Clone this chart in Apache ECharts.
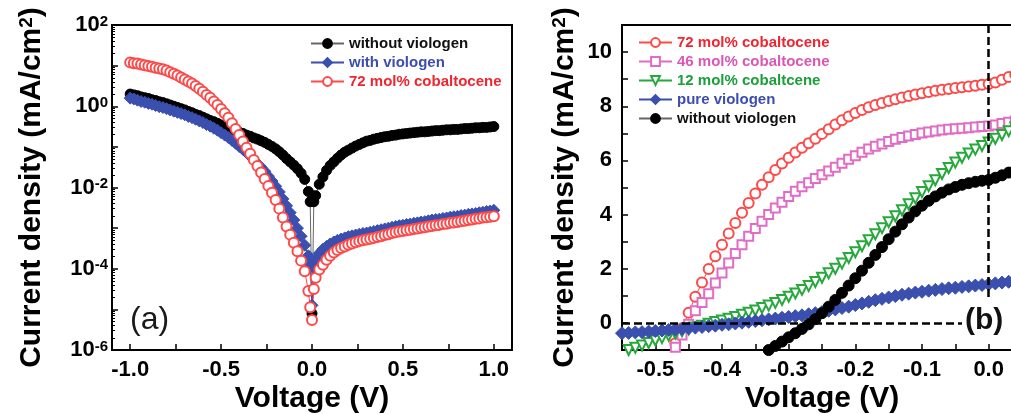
<!DOCTYPE html>
<html>
<head>
<meta charset="utf-8">
<script src="https://cdn.jsdelivr.net/npm/echarts@6.0.0/dist/echarts.min.js"></script>
<style>
  html, body { margin: 0; padding: 0; background: #fff; overflow: hidden; width: 1011px; height: 414px; }
  #chart { width: 1030px; height: 414px; }
</style>
</head>
<body>
<div id="chart"></div>
<script>
// ---- panel (a): dark J-V, log scale (values are log10 of mA/cm2) ----
const voltageA = [
  -1.00, -0.98, -0.96, -0.94, -0.92, -0.90, -0.88, -0.86, -0.84, -0.82,
  -0.80, -0.78, -0.76, -0.74, -0.72, -0.70, -0.68, -0.66, -0.64, -0.62,
  -0.60, -0.58, -0.56, -0.54, -0.52, -0.50, -0.48, -0.46, -0.44, -0.42,
  -0.40, -0.38, -0.36, -0.34, -0.32, -0.30, -0.28, -0.26, -0.24, -0.22,
  -0.20, -0.18, -0.16, -0.14, -0.12, -0.10, -0.08, -0.06, -0.04, -0.02,
  -0.01, 0.00, 0.01,
  0.02, 0.04, 0.06, 0.08, 0.10, 0.12, 0.14, 0.16, 0.18, 0.20,
  0.22, 0.24, 0.26, 0.28, 0.30, 0.32, 0.34, 0.36, 0.38, 0.40,
  0.42, 0.44, 0.46, 0.48, 0.50, 0.52, 0.54, 0.56, 0.58, 0.60,
  0.62, 0.64, 0.66, 0.68, 0.70, 0.72, 0.74, 0.76, 0.78, 0.80,
  0.82, 0.84, 0.86, 0.88, 0.90, 0.92, 0.94, 0.96, 0.98, 1.00
];
const logWithoutA = [
  0.30, 0.28, 0.26, 0.23, 0.21, 0.19, 0.16, 0.14, 0.11, 0.09,
  0.06, 0.03, 0.00, -0.03, -0.06, -0.09, -0.13, -0.16, -0.20, -0.23,
  -0.27, -0.31, -0.35, -0.38, -0.42, -0.46, -0.49, -0.53, -0.57, -0.60,
  -0.64, -0.67, -0.71, -0.74, -0.78, -0.81, -0.85, -0.89, -0.94, -0.99,
  -1.05, -1.12, -1.20, -1.29, -1.37, -1.45, -1.54, -1.65, -1.80, -2.10,
  -2.35, -5.10, -2.35,
  -2.20, -1.92, -1.74, -1.58, -1.46, -1.37, -1.28, -1.20, -1.13, -1.08,
  -1.03, -0.98, -0.94, -0.90, -0.86, -0.84, -0.81, -0.79, -0.77, -0.75,
  -0.74, -0.72, -0.71, -0.69, -0.68, -0.67, -0.66, -0.65, -0.64, -0.63,
  -0.63, -0.62, -0.61, -0.60, -0.60, -0.59, -0.58, -0.58, -0.57, -0.57,
  -0.56, -0.55, -0.55, -0.54, -0.53, -0.53, -0.52, -0.52, -0.51, -0.50
];
const logWithA = [
  0.20, 0.18, 0.15, 0.12, 0.10, 0.07, 0.05, 0.02, -0.01, -0.03,
  -0.06, -0.09, -0.12, -0.15, -0.18, -0.21, -0.25, -0.28, -0.32, -0.36,
  -0.40, -0.45, -0.49, -0.54, -0.59, -0.65, -0.71, -0.77, -0.84, -0.91,
  -0.99, -1.06, -1.14, -1.23, -1.32, -1.41, -1.50, -1.60, -1.72, -1.84,
  -1.97, -2.11, -2.28, -2.45, -2.62, -2.80, -3.00, -3.20, -3.42, -3.68,
  -3.90, -4.90, -3.98,
  -3.78, -3.62, -3.52, -3.45, -3.39, -3.34, -3.30, -3.27, -3.24, -3.21,
  -3.19, -3.17, -3.15, -3.13, -3.12, -3.10, -3.08, -3.06, -3.04, -3.02,
  -3.00, -2.98, -2.96, -2.94, -2.93, -2.91, -2.90, -2.88, -2.87, -2.85,
  -2.84, -2.82, -2.80, -2.79, -2.78, -2.76, -2.75, -2.73, -2.72, -2.71,
  -2.69, -2.68, -2.66, -2.65, -2.64, -2.62, -2.61, -2.59, -2.58, -2.56
];
const logCo72A = [
  1.08, 1.06, 1.05, 1.03, 1.01, 0.99, 0.97, 0.95, 0.93, 0.91,
  0.88, 0.84, 0.80, 0.76, 0.71, 0.66, 0.61, 0.56, 0.50, 0.43,
  0.36, 0.28, 0.21, 0.12, 0.03, -0.07, -0.17, -0.28, -0.42, -0.56,
  -0.71, -0.87, -1.02, -1.17, -1.32, -1.47, -1.63, -1.79, -1.96, -2.13,
  -2.31, -2.52, -2.74, -2.96, -3.16, -3.36, -3.57, -3.80, -4.06, -4.55,
  -4.95, -5.26, -4.50,
  -4.22, -4.02, -3.90, -3.78, -3.68, -3.60, -3.54, -3.49, -3.45, -3.41,
  -3.38, -3.35, -3.32, -3.30, -3.28, -3.26, -3.24, -3.22, -3.20, -3.17,
  -3.15, -3.12, -3.10, -3.08, -3.07, -3.05, -3.04, -3.02, -3.01, -2.99,
  -2.98, -2.96, -2.95, -2.93, -2.92, -2.90, -2.89, -2.87, -2.86, -2.85,
  -2.83, -2.82, -2.80, -2.79, -2.77, -2.76, -2.74, -2.73, -2.72, -2.71
];

// ---- panel (b): illuminated J-V, mA/cm2 (null = outside the visible window) ----
const voltageB = [
  -0.55, -0.54, -0.53, -0.52, -0.51, -0.50, -0.49, -0.48, -0.47, -0.46,
  -0.45, -0.44, -0.43, -0.42, -0.41, -0.40, -0.39, -0.38, -0.37, -0.36,
  -0.35, -0.34, -0.33, -0.32, -0.31, -0.30, -0.29, -0.28, -0.27, -0.26,
  -0.25, -0.24, -0.23, -0.22, -0.21, -0.20, -0.19, -0.18, -0.17, -0.16,
  -0.15, -0.14, -0.13, -0.12, -0.11, -0.10, -0.09, -0.08, -0.07, -0.06,
  -0.05, -0.04, -0.03, -0.02, -0.01, 0.00, 0.01, 0.02, 0.03, 0.04, 0.05
];
const co72B = [
  null, null, null, null, null, null, null, -1.30, -0.75, -0.20,
  0.38, 0.97, 1.49, 1.99, 2.46, 2.89, 3.30, 3.69, 4.07, 4.43,
  4.78, 5.10, 5.38, 5.65, 5.89, 6.10, 6.29, 6.47, 6.63, 6.80,
  6.98, 7.15, 7.33, 7.48, 7.62, 7.75, 7.86, 7.96, 8.05, 8.12,
  8.19, 8.26, 8.32, 8.38, 8.43, 8.48, 8.53, 8.57, 8.61, 8.64,
  8.67, 8.70, 8.73, 8.76, 8.79, 8.82, 8.88, 8.98, 9.08, 9.16, 9.24
];
const co46B = [
  null, null, null, null, null, null, null, -1.40, -0.90, -0.45,
  -0.05, 0.45, 0.75, 1.08, 1.47, 1.84, 2.21, 2.56, 2.89, 3.20,
  3.49, 3.75, 4.00, 4.24, 4.46, 4.67, 4.86, 5.03, 5.18, 5.33,
  5.47, 5.61, 5.75, 5.90, 6.04, 6.17, 6.30, 6.42, 6.52, 6.61,
  6.70, 6.78, 6.85, 6.90, 6.96, 7.01, 7.05, 7.09, 7.12, 7.15,
  7.17, 7.19, 7.21, 7.23, 7.25, 7.27, 7.31, 7.36, 7.41, 7.46, 7.51
];
const co12B = [
  -1.10, -1.00, -0.92, -0.83, -0.74, -0.65, -0.56, -0.47, -0.39, -0.31,
  -0.24, -0.17, -0.10, -0.03, 0.03, 0.09, 0.15, 0.22, 0.30, 0.38,
  0.46, 0.55, 0.64, 0.74, 0.85, 0.97, 1.09, 1.22, 1.36, 1.51,
  1.67, 1.83, 2.00, 2.19, 2.40, 2.61, 2.83, 3.05, 3.27, 3.50,
  3.72, 3.94, 4.16, 4.38, 4.60, 4.83, 5.05, 5.27, 5.50, 5.72,
  5.92, 6.10, 6.26, 6.40, 6.53, 6.66, 6.80, 6.94, 7.08, 7.22, 7.36
];
const pureViologenB = [
  -0.38, -0.37, -0.35, -0.34, -0.32, -0.30, -0.28, -0.26, -0.24, -0.22,
  -0.20, -0.17, -0.15, -0.12, -0.10, -0.07, -0.05, -0.02, 0.01, 0.04,
  0.07, 0.10, 0.13, 0.16, 0.19, 0.22, 0.25, 0.28, 0.32, 0.36,
  0.40, 0.45, 0.50, 0.55, 0.60, 0.66, 0.72, 0.78, 0.84, 0.89,
  0.94, 0.99, 1.04, 1.08, 1.12, 1.15, 1.19, 1.22, 1.25, 1.28,
  1.30, 1.33, 1.35, 1.38, 1.40, 1.43, 1.46, 1.49, 1.52, 1.55, 1.58
];
const withoutB = [
  null, null, null, null, null, null, null, null, null, null,
  null, null, null, null, null, null, null, null, null, null,
  null, -1.25, -1.00, -0.85, -0.69, -0.53, -0.38, -0.22, -0.05, 0.14,
  0.36, 0.60, 0.85, 1.11, 1.38, 1.65, 1.93, 2.22, 2.51, 2.80,
  3.09, 3.37, 3.64, 3.89, 4.12, 4.33, 4.51, 4.67, 4.81, 4.93,
  5.02, 5.10, 5.16, 5.21, 5.25, 5.28, 5.36, 5.45, 5.55, 5.64, 5.73
];

// ---- ticks and labels ----
const xTicksA = [-1, -0.75, -0.5, -0.25, 0, 0.25, 0.5, 0.75, 1];
const xLabelsA = [-1, -0.5, 0, 0.5, 1];
const yDecadesA = [1e-6, 1e-5, 1e-4, 1e-3, 1e-2, 1e-1, 1, 1e1, 1e2];
const yLabelsA = [1e-6, 1e-4, 1e-2, 1, 1e2];
const xTicksB = [-0.5, -0.45, -0.4, -0.35, -0.3, -0.25, -0.2, -0.15, -0.1, -0.05, 0];
const xLabelsB = [-0.5, -0.4, -0.3, -0.2, -0.1, 0];
const yTicksB = [0, 1, 2, 3, 4, 5, 6, 7, 8, 9, 10];
const yLabelsB = [0, 2, 4, 6, 8, 10];

const yMinorA = [];
yDecadesA.slice(0, -1).forEach(d => {
  for (let k = 2; k <= 9; k++) yMinorA.push(d * k);
});

const FONT = '"Liberation Sans", Arial, sans-serif';
const C = {
  black: '#000000',
  blue: '#3a4fae',
  red: '#ff4848',
  pink: '#e06cc6',
  green: '#27a83c'
};
const TXT = {
  black: '#111111',
  blue: '#3d4db0',
  red: '#ef2530',
  pink: '#d957b6',
  green: '#1c9e3a'
};

function pairs(xs, ys, tf) {
  const out = [];
  xs.forEach((x, i) => {
    if (ys[i] == null) return;
    out.push([x, tf ? tf(ys[i]) : ys[i]]);
  });
  return out;
}
const pow10 = v => Math.pow(10, v);

const tickLabelStyle = {
  color: '#000', fontSize: 22, fontWeight: 'bold', fontFamily: FONT
};
const nameStyle = {
  color: '#000', fontSize: 30, fontWeight: 'bold', fontFamily: FONT,
  rich: { sup: { fontSize: 19, fontWeight: 'bold', fontFamily: FONT, color: '#000', verticalAlign: 'top' } }
};
const axisLine = { show: true, onZero: false, lineStyle: { color: '#000', width: 2 } };

function lineSeries(name, x, y, data, symbol, size, color, extra) {
  return Object.assign({
    name: name,
    type: 'line',
    xAxisIndex: x,
    yAxisIndex: y,
    data: data,
    symbol: symbol,
    symbolSize: size,
    showSymbol: true,
    showAllSymbol: true,
    sampling: null,
    animation: false,
    itemStyle: { color: color, borderColor: color, borderWidth: 1 },
    lineStyle: { color: color === '#000000' ? '#666' : color, width: 1 },
    emphasis: { disabled: true }
  }, extra || {});
}

const chart = echarts.init(document.getElementById('chart'), null, { renderer: 'canvas' });

const legendBase = {
  orient: 'vertical', itemWidth: 33, itemHeight: 11, itemGap: 4, padding: 0,
  selectedMode: false,
  textStyle: { fontSize: 15, fontWeight: 'bold', fontFamily: FONT }
};

const option = {
  animation: false,
  backgroundColor: '#fff',
  grid: [
    { left: 112, top: 25, width: 400, height: 325, show: true, borderColor: '#000', borderWidth: 2, backgroundColor: 'transparent', containLabel: false, outerBoundsMode: 'none' },
    { left: 622, top: 25, width: 400, height: 325, show: true, borderColor: '#000', borderWidth: 2, backgroundColor: 'transparent', containLabel: false, outerBoundsMode: 'none' }
  ],
  xAxis: [
    {
      gridIndex: 0, type: 'value', min: -1.1, max: 1.1,
      axisLine: axisLine,
      axisTick: { show: true, inside: true, length: 6, lineStyle: { color: '#000', width: 1.5 }, customValues: xTicksA },
      axisLabel: Object.assign({ margin: 9, customValues: xLabelsA, formatter: v => v.toFixed(1) }, tickLabelStyle),
      splitLine: { show: false },
      name: 'Voltage (V)', nameLocation: 'middle', nameGap: 34, nameMoveOverlap: false,
      nameTextStyle: nameStyle
    },
    {
      gridIndex: 1, type: 'value', min: -0.55, max: 0.05,
      axisLine: axisLine,
      axisTick: { show: true, inside: true, length: 6, lineStyle: { color: '#000', width: 1.5 }, customValues: xTicksB },
      axisLabel: Object.assign({ margin: 9, customValues: xLabelsB, formatter: v => v.toFixed(1) }, tickLabelStyle),
      splitLine: { show: false },
      name: 'Voltage (V)', nameLocation: 'middle', nameGap: 34, nameMoveOverlap: false,
      nameTextStyle: nameStyle
    }
  ],
  yAxis: [
    {
      gridIndex: 0, type: 'log', logBase: 10, min: 1e-6, max: 1e2, position: 'left',
      axisLine: axisLine,
      axisTick: { show: true, inside: true, length: 6, lineStyle: { color: '#000', width: 1.5 }, customValues: yDecadesA },
      axisLabel: {
        margin: 4, customValues: yLabelsA,
        formatter: v => '{b|10}{s|' + Math.round(Math.log10(v)) + '}',
        rich: {
          b: { fontSize: 22, fontWeight: 'bold', fontFamily: FONT, color: '#000' },
          s: { fontSize: 15, fontWeight: 'bold', fontFamily: FONT, color: '#000', verticalAlign: 'top' }
        }
      },
      splitLine: { show: false },
      name: 'Current density (mA/cm{sup|2})', nameLocation: 'middle', nameGap: 65, nameMoveOverlap: false,
      nameTextStyle: nameStyle
    },
    {
      gridIndex: 0, type: 'log', logBase: 10, min: 1e-6, max: 1e2, position: 'left', offset: 0,
      axisLine: { show: false, onZero: false },
      axisTick: { show: true, inside: true, length: 3, lineStyle: { color: '#000', width: 1 }, customValues: yMinorA },
      axisLabel: { show: false },
      splitLine: { show: false }
    },
    {
      gridIndex: 1, type: 'value', min: -1, max: 11, position: 'left',
      axisLine: axisLine,
      axisTick: { show: true, inside: true, length: 6, lineStyle: { color: '#000', width: 1.5 }, customValues: yTicksB },
      axisLabel: Object.assign({ margin: 10, customValues: yLabelsB, formatter: v => String(Math.round(v)) }, tickLabelStyle),
      splitLine: { show: false },
      name: 'Current density (mA/cm{sup|2})', nameLocation: 'middle', nameGap: 42, nameMoveOverlap: false,
      nameTextStyle: nameStyle
    }
  ],
  legend: [
    Object.assign({}, legendBase, {
      left: 310, top: 36,
      data: [
        { name: 'without viologen', textStyle: { color: TXT.black } },
        { name: 'with viologen', textStyle: { color: TXT.blue } },
        { name: '72 mol% cobaltocene', textStyle: { color: TXT.red } }
      ]
    }),
    Object.assign({}, legendBase, {
      left: 638, top: 35,
      data: [
        { name: '72 mol% cobaltocene', textStyle: { color: TXT.red } },
        { name: '46 mol% cobaltocene', textStyle: { color: TXT.pink } },
        { name: '12 mol% cobaltcene', textStyle: { color: TXT.green } },
        { name: 'pure viologen', textStyle: { color: TXT.blue } },
        { name: 'without viologen', textStyle: { color: TXT.black } }
      ]
    })
  ],
  graphic: [
    { type: 'text', left: 130, top: 304, style: { text: '(a)', font: '32px ' + FONT, fill: '#1a1a1a' } },
    { type: 'text', left: 965, top: 306, style: { text: '(b)', font: 'bold 30px ' + FONT, fill: '#111' } }
  ],
  series: [
    // panel (a)
    lineSeries('without viologen', 0, 0, pairs(voltageA, logWithoutA, pow10), 'circle', 10, C.black),
    lineSeries('with viologen', 0, 0, pairs(voltageA, logWithA, pow10), 'diamond', 12, C.blue),
    lineSeries('72 mol% cobaltocene', 0, 0, pairs(voltageA, logCo72A, pow10), 'emptyCircle', 10, C.red),
    // panel (b)
    lineSeries('72 mol% cobaltocene', 1, 2, pairs(voltageB, co72B), 'emptyCircle', 10, C.red),
    lineSeries('46 mol% cobaltocene', 1, 2, pairs(voltageB, co46B), 'emptyRect', 9, C.pink),
    lineSeries('12 mol% cobaltcene', 1, 2, pairs(voltageB, co12B), 'emptyTriangle', 10, C.green, { symbolRotate: 180 }),
    lineSeries('pure viologen', 1, 2, pairs(voltageB, pureViologenB), 'diamond', 13, C.blue),
    lineSeries('without viologen', 1, 2, pairs(voltageB, withoutB), 'circle', 11, C.black, {
      markLine: {
        silent: true,
        symbol: ['none', 'none'],
        label: { show: false },
        lineStyle: { color: '#000', width: 2.5, type: [8, 4] },
        emphasis: { disabled: true },
        animation: false,
        data: [
          [{ coord: [-0.55, 0] }, { coord: [-0.04, 0] }],
          [{ coord: [0, 11] }, { coord: [0, 0.85] }]
        ]
      }
    })
  ]
};

chart.setOption(option);
</script>
</body>
</html>
